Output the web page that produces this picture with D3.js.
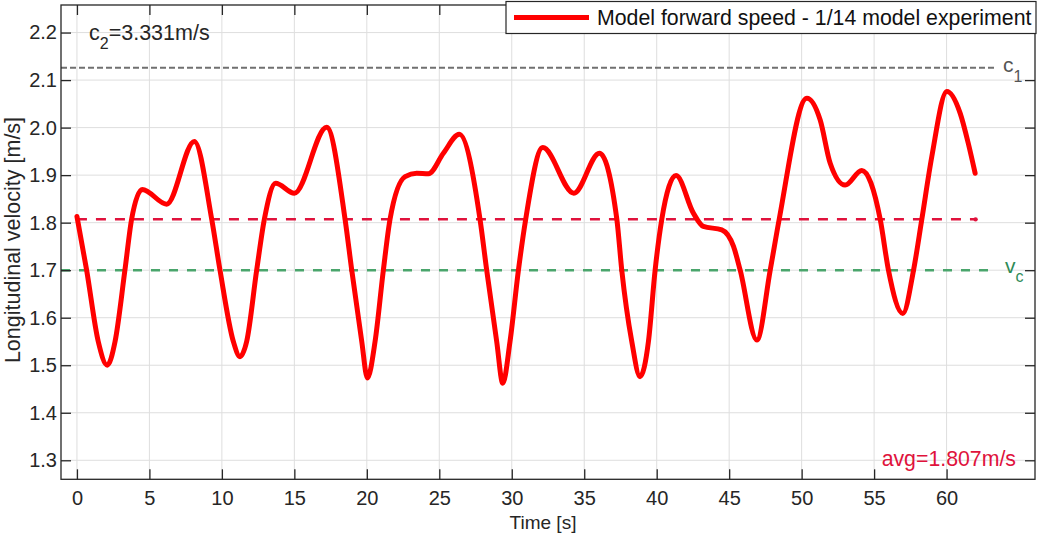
<!DOCTYPE html>
<html><head><meta charset="utf-8">
<script src="https://cdn.jsdelivr.net/npm/d3@7/dist/d3.min.js"></script>
<style>body{margin:0;background:#fff}svg{display:block}text{font-family:"Liberation Sans",Arial,sans-serif}</style>
</head><body><svg id="c" width="1038" height="535"></svg>
<script>
// Data
const timeS = [0,0.67,1.47,2.09,2.63,3.31,3.77,4.51,6.19,8.10,9.30,9.87,10.79,11.25,11.71,12.40,12.93,13.71,15.00,17.23,18.50,18.96,19.65,20.04,20.57,21.14,21.60,22.64,23.44,24.25,25.28,26.38,27.81,28.27,28.96,29.38,29.88,30.46,30.96,32.14,34.28,36.05,37.25,37.59,38.28,38.85,39.43,39.89,40.35,41.34,42.53,43.22,44.49,45.30,45.76,46.91,47.83,48.45,50.36,51.28,51.97,53.00,54.15,55.42,55.99,56.98,57.72,58.29,58.98,60.02,60.94,61.52,61.97];
const speed = [1.813,1.70,1.55,1.50,1.55,1.70,1.807,1.870,1.839,1.971,1.807,1.70,1.55,1.518,1.55,1.70,1.807,1.883,1.862,2.001,1.807,1.70,1.55,1.473,1.55,1.70,1.807,1.897,1.904,1.903,1.946,1.986,1.807,1.70,1.55,1.462,1.55,1.70,1.807,1.958,1.862,1.946,1.807,1.70,1.55,1.476,1.55,1.70,1.807,1.899,1.820,1.792,1.785,1.750,1.70,1.553,1.70,1.807,2.062,2.016,1.925,1.879,1.910,1.807,1.70,1.609,1.70,1.807,1.939,2.076,2.030,1.964,1.904];
const avgSpeed = 1.807;
const vcSpeed = 1.70;
const c1Speed = 2.126;
const xTicks = [0,5,10,15,20,25,30,35,40,45,50,55,60];
const yTicks = [1.3,1.4,1.5,1.6,1.7,1.8,1.9,2.0,2.1,2.2];
const yTickLabels = ["1.3","1.4","1.5","1.6","1.7","1.8","1.9","2.0","2.1","2.2"];
const legendLabel = "Model forward speed - 1/14 model experiment";

const svg = d3.select("#c");
const L=61, R=1035, T=5, B=479.3;
const x = d3.scaleLinear().domain([-1.1,66.1]).range([L,R]);
const y = d3.scaleLinear().domain([1.26,2.258]).range([B,T]);
const axisCol = "#262626";
const fs = 20;

// grid
const g = svg.append("g");
g.selectAll(".gx").data(xTicks).enter().append("line")
 .attr("x1",d=>x(d)).attr("x2",d=>x(d)).attr("y1",T).attr("y2",B)
 .attr("stroke","#dedede").attr("stroke-width",1);
g.selectAll(".gy").data(yTicks).enter().append("line")
 .attr("y1",d=>y(d)).attr("y2",d=>y(d)).attr("x1",L).attr("x2",R)
 .attr("stroke","#dedede").attr("stroke-width",1);

// reference lines
svg.append("line").attr("x1",L).attr("x2",x(63.4)).attr("y1",y(c1Speed)).attr("y2",y(c1Speed))
 .attr("stroke","#707070").attr("stroke-width",2).attr("stroke-dasharray","6,3");
svg.append("line").attr("x1",L).attr("x2",x(63.4)).attr("y1",y(vcSpeed)).attr("y2",y(vcSpeed))
 .attr("stroke","#4aa56c").attr("stroke-width",2.5).attr("stroke-dasharray","9,9");
svg.append("line").attr("x1",x(0)).attr("x2",x(62)).attr("y1",y(avgSpeed)).attr("y2",y(avgSpeed))
 .attr("stroke","#e0123c").attr("stroke-width",2.5).attr("stroke-dasharray","10,9");
svg.append("circle").attr("cx",x(62)).attr("cy",y(avgSpeed)).attr("r",2.2).attr("fill","#e0123c");

// curve
const pts = timeS.map((t,i)=>[t,speed[i]]);
svg.append("path").datum(pts)
 .attr("d", d3.line().x(d=>x(d[0])).y(d=>y(d[1])).curve(d3.curveMonotoneX))
 .attr("fill","none").attr("stroke","#ff0000").attr("stroke-width",5)
 .attr("stroke-linejoin","round").attr("stroke-linecap","round");

// axes box & ticks
const ax = svg.append("g");
ax.append("rect").attr("x",L).attr("y",T).attr("width",R-L).attr("height",B-T)
 .attr("fill","none").attr("stroke",axisCol).attr("stroke-width",1.3);
const xAxisB = d3.axisBottom(x).tickValues(xTicks).tickSizeInner(-10).tickSizeOuter(0).tickPadding(12);
const xg = ax.append("g").attr("transform",`translate(0,${B})`).call(xAxisB);
const xAxisT = d3.axisTop(x).tickValues(xTicks).tickSizeInner(-10).tickSizeOuter(0).tickFormat("");
const xgt = ax.append("g").attr("transform",`translate(0,${T})`).call(xAxisT);
const yAxisL = d3.axisLeft(y).tickValues(yTicks).tickSizeInner(-10).tickSizeOuter(0).tickPadding(4).tickFormat((d,i)=>yTickLabels[i]);
const yg = ax.append("g").attr("transform",`translate(${L},0)`).call(yAxisL);
const yAxisR = d3.axisRight(y).tickValues(yTicks).tickSizeInner(-10).tickSizeOuter(0).tickFormat("");
const ygr = ax.append("g").attr("transform",`translate(${R},0)`).call(yAxisR);
[xg,xgt,yg,ygr].forEach(s=>{
  s.select(".domain").remove();
  s.selectAll(".tick line").attr("stroke",axisCol).attr("stroke-width",1.3);
  s.selectAll(".tick text").attr("fill",axisCol).style("font-size",fs+"px").style("font-family","'Liberation Sans',Arial,sans-serif");
});

// axis labels
svg.append("text").attr("x",543).attr("y",529).attr("text-anchor","middle")
 .attr("fill",axisCol).style("font-size","19px").text("Time [s]");
svg.append("text").attr("transform",`translate(20,240) rotate(-90)`).attr("text-anchor","middle")
 .attr("fill",axisCol).style("font-size","21.5px").text("Longitudinal velocity [m/s]");

// annotations
const c2 = svg.append("text").attr("x",89).attr("y",40).attr("fill",axisCol).style("font-size","21.5px");
c2.append("tspan").text("c");
c2.append("tspan").attr("dy",9).style("font-size","16px").text("2");
c2.append("tspan").attr("dy",-9).text("=3.331m/s");

const c1 = svg.append("text").attr("x",1003).attr("y",72).attr("fill","#555555").style("font-size","21px");
c1.append("tspan").text("c");
c1.append("tspan").attr("dy",10).attr("fill","#555555").style("font-size","16px").text("1");

const vc = svg.append("text").attr("x",1005).attr("y",273).attr("fill","#2e8b57").style("font-size","21px");
vc.append("tspan").text("v");
vc.append("tspan").attr("dy",9).style("font-size","16px").text("c");

svg.append("text").attr("x",1016).attr("y",466).attr("text-anchor","end").attr("fill","#e0123c")
 .style("font-size","21.3px").text("avg=" + avgSpeed.toFixed(3) + "m/s");

// legend
const lg = svg.append("g");
lg.append("rect").attr("x",506).attr("y",1.5).attr("width",530).attr("height",32)
 .attr("fill","#fff").attr("stroke",axisCol).attr("stroke-width",1.2);
lg.append("line").attr("x1",514).attr("x2",589).attr("y1",17.5).attr("y2",17.5)
 .attr("stroke","#ff0000").attr("stroke-width",5);
lg.append("text").attr("x",597).attr("y",25).attr("fill","#111").style("font-size","21.3px").text(legendLabel);
</script></body></html>
